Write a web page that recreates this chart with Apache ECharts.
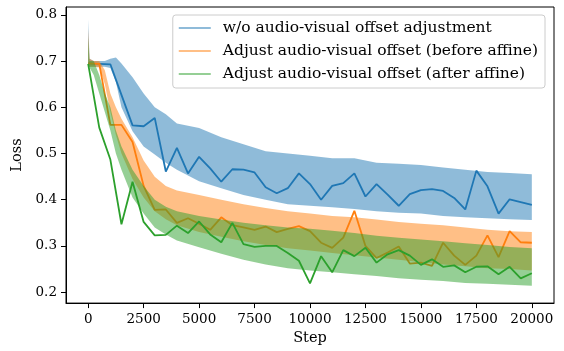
<!DOCTYPE html>
<html>
<head>
<meta charset="utf-8">
<script src="https://cdn.jsdelivr.net/npm/echarts@6/dist/echarts.min.js"></script>
<style>
  html, body { margin: 0; padding: 0; background: #ffffff; }
  #chart { width: 564px; height: 351px; }
</style>
</head>
<body>
<div id="chart"></div>
<script>
// Evaluation checkpoints (every 500 steps) for the three training runs.
const evalSteps = [0, 500, 1000, 1500, 2000, 2500, 3000, 3500, 4000, 4500,
  5000, 5500, 6000, 6500, 7000, 7500, 8000, 8500, 9000, 9500,
  10000, 10500, 11000, 11500, 12000, 12500, 13000, 13500, 14000, 14500,
  15000, 15500, 16000, 16500, 17000, 17500, 18000, 18500, 19000, 19500, 20000];

const lossNoAdjust = [0.695, 0.694, 0.693, 0.627, 0.561, 0.559, 0.577, 0.461, 0.512, 0.457,
  0.493, 0.468, 0.439, 0.466, 0.465, 0.459, 0.427, 0.414, 0.425, 0.457,
  0.434, 0.400, 0.430, 0.436, 0.457, 0.407, 0.434, 0.411, 0.387, 0.412,
  0.421, 0.423, 0.419, 0.404, 0.379, 0.463, 0.429, 0.370, 0.401, 0.395, 0.389];

const lossBeforeAffine = [0.695, 0.694, 0.562, 0.562, 0.525, 0.430, 0.378, 0.379, 0.350, 0.360,
  0.348, 0.335, 0.362, 0.345, 0.340, 0.335, 0.342, 0.330, 0.337, 0.343,
  0.332, 0.307, 0.296, 0.318, 0.376, 0.300, 0.274, 0.286, 0.299, 0.262,
  0.264, 0.257, 0.307, 0.279, 0.259, 0.279, 0.323, 0.276, 0.332, 0.308, 0.307];

const lossAfterAffine = [0.694, 0.556, 0.487, 0.347, 0.439, 0.352, 0.323, 0.324, 0.344, 0.328,
  0.353, 0.325, 0.308, 0.350, 0.304, 0.298, 0.300, 0.300, 0.285, 0.268,
  0.219, 0.278, 0.243, 0.291, 0.278, 0.296, 0.264, 0.282, 0.291, 0.279,
  0.259, 0.271, 0.255, 0.258, 0.243, 0.255, 0.256, 0.239, 0.255, 0.230, 0.241];

// Spread of the raw per-step loss: upper and lower edge at each step.
const bandSteps = [0, 60, 250, 500, 750, 1000, 1250, 1500, 2000, 2500, 3000, 3500, 4000,
  5000, 6000, 7000, 8000, 9000, 10000, 11000, 12000, 13000, 14000, 15000,
  16000, 17000, 18000, 19000, 20000];

const rawNoAdjustHigh = [0.790, 0.705, 0.700, 0.700, 0.700, 0.705, 0.708, 0.695, 0.665, 0.630, 0.600, 0.585, 0.565,
  0.555, 0.535, 0.520, 0.505, 0.500, 0.495, 0.490, 0.490, 0.480, 0.478, 0.475,
  0.470, 0.465, 0.460, 0.458, 0.455];
const rawNoAdjustLow = [0.690, 0.688, 0.688, 0.688, 0.688, 0.685, 0.655, 0.600, 0.548, 0.515, 0.498, 0.480, 0.465,
  0.440, 0.425, 0.410, 0.400, 0.390, 0.387, 0.384, 0.380, 0.375, 0.372, 0.370,
  0.365, 0.362, 0.360, 0.358, 0.356];

const rawBeforeHigh = [0.770, 0.705, 0.700, 0.700, 0.680, 0.630, 0.600, 0.575, 0.535, 0.485, 0.450, 0.430, 0.420,
  0.410, 0.400, 0.390, 0.382, 0.375, 0.370, 0.365, 0.362, 0.357, 0.352, 0.348,
  0.345, 0.340, 0.335, 0.332, 0.330];
const rawBeforeLow = [0.690, 0.688, 0.688, 0.686, 0.650, 0.590, 0.540, 0.500, 0.445, 0.405, 0.375, 0.358, 0.345,
  0.330, 0.320, 0.310, 0.302, 0.295, 0.290, 0.285, 0.280, 0.275, 0.270, 0.265,
  0.260, 0.256, 0.252, 0.250, 0.247];

const rawAfterHigh = [0.750, 0.700, 0.700, 0.670, 0.630, 0.600, 0.550, 0.515, 0.465, 0.430, 0.400, 0.385, 0.375,
  0.365, 0.357, 0.350, 0.345, 0.340, 0.337, 0.333, 0.328, 0.322, 0.318, 0.314,
  0.310, 0.306, 0.302, 0.298, 0.295];
const rawAfterLow = [0.690, 0.686, 0.670, 0.630, 0.590, 0.550, 0.500, 0.465, 0.405, 0.370, 0.340, 0.325, 0.312,
  0.297, 0.283, 0.270, 0.260, 0.252, 0.247, 0.243, 0.239, 0.235, 0.230, 0.227,
  0.224, 0.220, 0.218, 0.216, 0.214];

const runNames = [
  'w/o audio-visual offset adjustment',
  'Adjust audio-visual offset (before affine)',
  'Adjust audio-visual offset (after affine)'
];

const stepTicks = [0, 2500, 5000, 7500, 10000, 12500, 15000, 17500, 20000];
const lossTicks = [0.2, 0.3, 0.4, 0.5, 0.6, 0.7, 0.8];

const FONT = 'DejaVu Serif';
const BLUE = '#1f77b4', ORANGE = '#ff7f0e', GREEN = '#2ca02c';
const BLUE_A = 'rgba(31,119,180,0.5)', ORANGE_A = 'rgba(255,127,14,0.5)', GREEN_A = 'rgba(44,160,44,0.5)';

// Filled polygon between the high and low edges of a raw-loss band.
function bandSeries(name, high, low, color, z) {
  return {
    type: 'custom',
    name: name,
    z: z,
    coordinateSystem: 'cartesian2d',
    itemStyle: { color: color },
    data: [[bandSteps[0], low[0]]],
    encode: { x: 0, y: 1 },
    silent: true,
    renderItem: function (params, api) {
      const pts = [];
      for (let i = 0; i < bandSteps.length; i++) pts.push(api.coord([bandSteps[i], high[i]]));
      for (let i = bandSteps.length - 1; i >= 0; i--) pts.push(api.coord([bandSteps[i], low[i]]));
      return { type: 'polygon', shape: { points: pts }, style: { fill: color } };
    }
  };
}

function evalLine(id, values, color, z) {
  return {
    type: 'line',
    name: id,
    z: z,
    data: evalSteps.map((s, i) => [s, values[i]]),
    showSymbol: false,
    silent: true,
    lineStyle: { color: color, width: 1.8 },
    itemStyle: { color: color }
  };
}

const chart = echarts.init(document.getElementById('chart'), null, { renderer: 'canvas' });

chart.setOption({
  animation: false,
  backgroundColor: '#ffffff',
  textStyle: { fontFamily: FONT },
  grid: {
    left: 66, right: 10, top: 7, bottom: 45,
    show: true, borderColor: '#000000', borderWidth: 1, backgroundColor: 'transparent'
  },
  legend: {
    data: runNames,
    orient: 'vertical',
    right: 19,
    top: 15,
    icon: 'rect',
    itemWidth: 32,
    itemHeight: 2,
    itemGap: 5,
    padding: [4, 7, 5, 6],
    backgroundColor: 'rgba(255,255,255,0.8)',
    borderColor: '#cccccc',
    borderWidth: 1,
    borderRadius: 3,
    selectedMode: false,
    textStyle: { fontFamily: FONT, fontSize: 15.5, color: '#000000', lineHeight: 18, padding: [0, 0, 0, 7] }
  },
  xAxis: {
    type: 'value',
    min: -1000,
    max: 21000,
    name: 'Step',
    nameLocation: 'middle',
    nameGap: 19,
    nameTextStyle: { fontFamily: FONT, fontSize: 14.5, color: '#000000' },
    axisLine: { show: true, onZero: false, lineStyle: { color: '#000000', width: 1 } },
    axisTick: { show: true, length: 5, customValues: stepTicks, lineStyle: { color: '#000000', width: 1 } },
    axisLabel: { customValues: stepTicks, margin: 9, fontFamily: FONT, fontSize: 13.5, color: '#000000',
      formatter: v => String(v) },
    splitLine: { show: false }
  },
  yAxis: {
    type: 'value',
    min: 0.1764,
    max: 0.817,
    name: 'Loss',
    nameLocation: 'middle',
    nameGap: 39,
    nameRotate: 90,
    nameTextStyle: { fontFamily: FONT, fontSize: 14.5, color: '#000000' },
    axisLine: { show: true, onZero: false, lineStyle: { color: '#000000', width: 1 } },
    axisTick: { show: true, length: 5, customValues: lossTicks, lineStyle: { color: '#000000', width: 1 } },
    axisLabel: { customValues: lossTicks, margin: 9, fontFamily: FONT, fontSize: 13.5, color: '#000000',
      formatter: v => v.toFixed(1) },
    splitLine: { show: false }
  },
  series: [
    bandSeries(runNames[0], rawNoAdjustHigh, rawNoAdjustLow, BLUE_A, 2),
    evalLine('eval-no-adjust', lossNoAdjust, BLUE, 3),
    bandSeries(runNames[1], rawBeforeHigh, rawBeforeLow, ORANGE_A, 4),
    evalLine('eval-before-affine', lossBeforeAffine, ORANGE, 5),
    bandSeries(runNames[2], rawAfterHigh, rawAfterLow, GREEN_A, 6),
    evalLine('eval-after-affine', lossAfterAffine, GREEN, 7)
  ]
});
</script>
</body>
</html>
